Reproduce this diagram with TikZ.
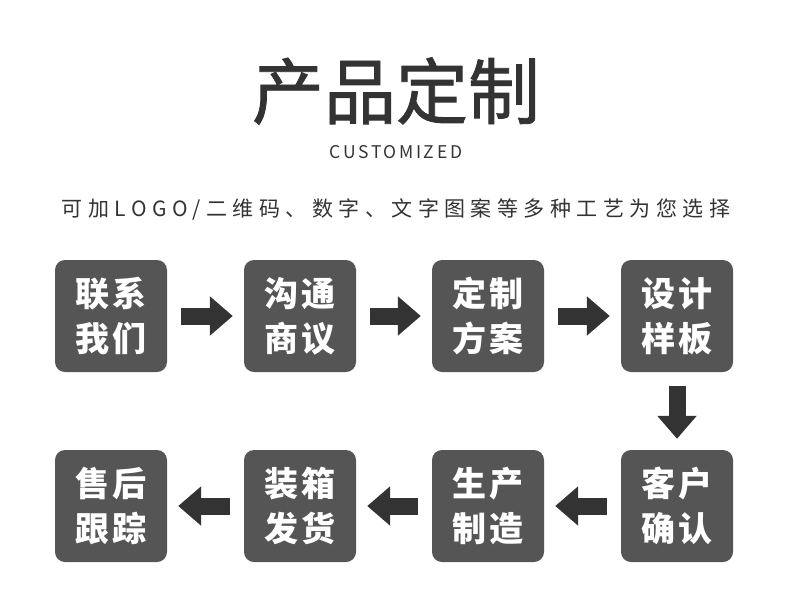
\documentclass[tikz,border=0pt]{standalone}
\usepackage{fontspec}
\usepackage{tikz}
\usetikzlibrary{arrows.meta}
\newfontfamily\cjk{Noto Sans CJK SC}
\newfontfamily\cjktitle[FakeBold=1.2]{Noto Sans CJK SC}
\newfontfamily\cjkbox[LetterSpace=8]{Noto Sans CJK SC}
\newfontfamily\cjkspaced[LetterSpace=26]{Noto Sans CJK SC}
\newfontfamily\enspaced[LetterSpace=15]{Noto Sans CJK SC}
\definecolor{boxgray}{HTML}{555555}
\definecolor{arrowgray}{HTML}{333333}
\definecolor{titlegray}{HTML}{333333}

\tikzset{
  stepbox/.style={fill=boxgray, rounded corners=10pt, minimum width=112pt,
    minimum height=112pt, inner sep=0pt, text=white, align=center,
    font=\cjkbox\bfseries\fontsize{34}{45}\selectfont},
  flowarrow/.style={draw=arrowgray, line width=17pt,
    -{Triangle[width=38pt,length=23pt]}, shorten <=14pt, shorten >=11pt},
}

\begin{document}
\begin{tikzpicture}[x=1pt,y=-1pt]
    \useasboundingbox (0,0) rectangle (790,600);
    \node[text=titlegray, font=\cjktitle\fontsize{72}{72}\selectfont] (title) at (396,91) {产品定制};
    \node[text=titlegray, font=\enspaced\fontsize{17.5}{18}\selectfont] (en) at (396,152) {CUSTOMIZED};
    \node[text=titlegray, font=\cjkspaced\fontsize{21}{21}\selectfont] (craft) at (396,209) {可加LOGO/二维码、数字、文字图案等多种工艺为您选择};

    % top row runs left to right, bottom row right to left
    \foreach \i/\x/\y/\txt in {1/111/316/联系\\我们, 2/300/316/沟通\\商议,
                               3/488/316/定制\\方案, 4/677/316/设计\\样板,
                               5/677/506/客户\\确认, 6/488/506/生产\\制造,
                               7/300/506/装箱\\发货, 8/111/506/售后\\跟踪}{
        \node[stepbox] (s\i) at (\x,\y) {\txt};
    }

    \foreach \a/\b in {1/2,2/3,3/4,4/5,5/6,6/7,7/8}{
        \draw[flowarrow] (s\a) -- (s\b);
    }
\end{tikzpicture}
\end{document}
